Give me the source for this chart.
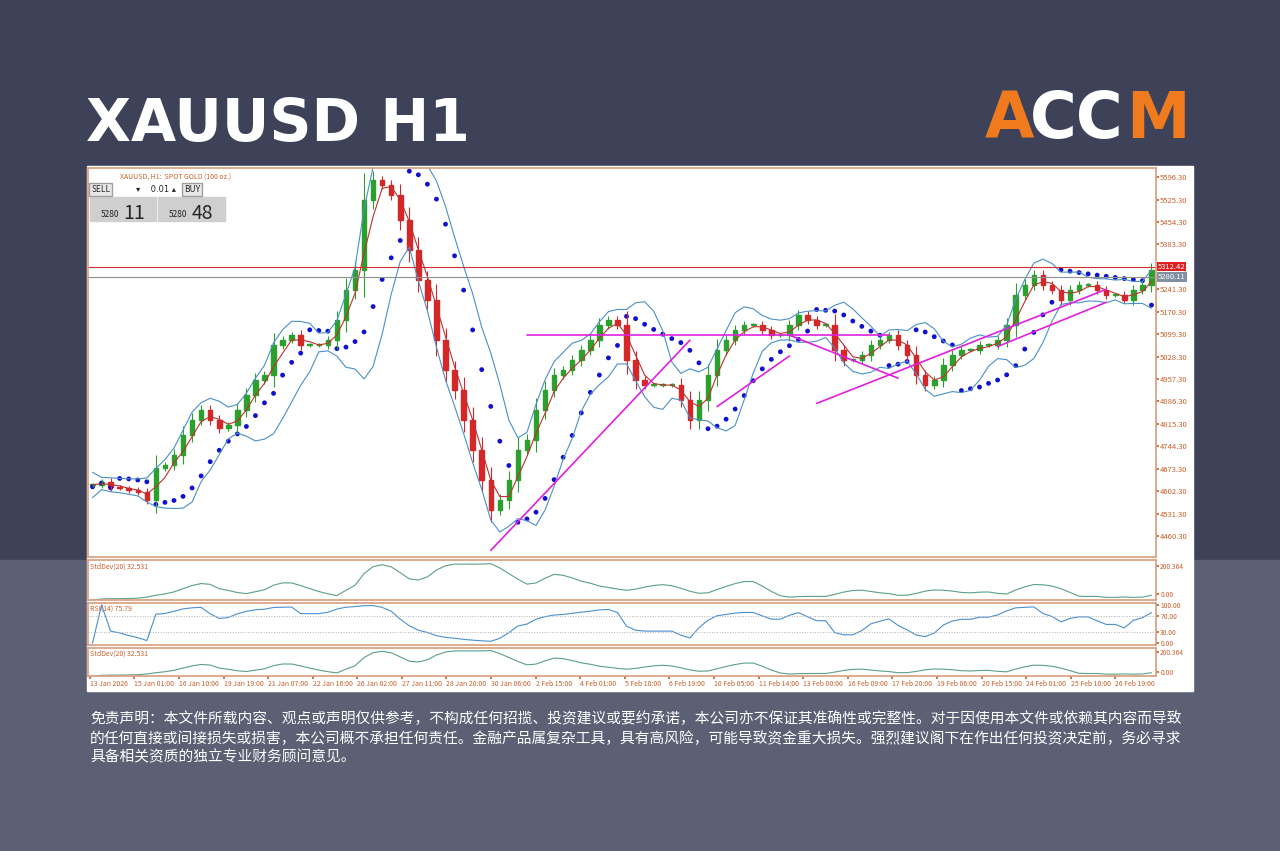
import numpy as np, pandas as pd, matplotlib
matplotlib.use("Agg")
import matplotlib.pyplot as plt, seaborn as sns
from matplotlib.patches import Rectangle

sns.set_theme(style="white")
plt.rcParams['font.family'] = ['Noto Sans CJK SC', 'DejaVu Sans']

# closes (one per ~10 px)
closes = [4622,4631,4615,4612,4606,4599,4575,4676,4685,4717,4780,4828,4859,4828,4802,4812,
          4859,4907,4954,4970,5065,5081,5096,5065,5065,5065,5081,5144,5239,5302,5524,5587,
          5571,5540,5461,5366,5271,5208,5081,4986,4923,4828,4733,4638,4543,4575,4638,4733,
          4765,4859,4923,4970,4986,5017,5049,5081,5128,5144,5128,5017,4954,4938,4938,4938,
          4938,4891,4828,4891,4970,5049,5081,5112,5128,5128,5112,5096,5096,5128,5160,5144,
          5128,5128,5049,5017,5017,5033,5065,5081,5096,5065,5033,4970,4938,4954,5001,5033,
          5049,5049,5065,5065,5081,5128,5223,5255,5286,5255,5239,5208,5239,5255,5255,5239,
          5223,5223,5208,5239,5255,5302]
date_labels = ["13 Jan 2026","15 Jan 01:00","16 Jan 10:00","19 Jan 19:00","21 Jan 07:00","22 Jan 16:00",
               "26 Jan 02:00","27 Jan 11:00","28 Jan 20:00","30 Jan 06:00","2 Feb 15:00","4 Feb 01:00",
               "5 Feb 10:00","6 Feb 19:00","10 Feb 05:00","11 Feb 14:00","13 Feb 00:00","16 Feb 09:00",
               "17 Feb 20:00","19 Feb 06:00","20 Feb 15:00","24 Feb 01:00","25 Feb 10:00","26 Feb 19:00"]
price_ticks = [5596.30,5525.30,5454.30,5383.30,5241.30,5170.30,5099.30,5028.30,4957.30,
               4886.30,4815.30,4744.30,4673.30,4602.30,4531.30,4460.30]
ask_line, bid_line = 5312.42, 5280.11
# magenta trendlines: (bar index, price) pairs
trend_lines = [((44,4415),(66,5080)),((48,5096),(88,5096)),((69,4870),(77,5030)),
               ((77,5096),(89,4960)),((80,4880),(112,5241)),((100,5060),(112,5200))]

n = len(closes)
df = pd.DataFrame({"i": np.arange(n), "close": closes})
df["open"] = df["close"].shift(1).fillna(df["close"])
rng_ = (df["close"] - df["open"]).abs()
df["high"] = df[["open","close"]].max(axis=1) + 0.35*rng_ + 6
df["low"] = df[["open","close"]].min(axis=1) - 0.35*rng_ - 6
df["ma"] = df["close"].rolling(3, min_periods=1).mean()
m = df["close"].rolling(6, min_periods=1).mean(); s = df["close"].rolling(6, min_periods=2).std().fillna(20)
df["bu"], df["bl"] = m + 1.5*s + 10, m - 1.5*s - 10
df["sd"] = df["close"].rolling(8, min_periods=2).std().fillna(0)
d = df["close"].diff().fillna(0)
up = d.clip(lower=0).ewm(alpha=1/5).mean(); dn = (-d.clip(upper=0)).ewm(alpha=1/5).mean()
df["rsi"] = 100 - 100/(1+up/(dn+1e-9))
# parabolic SAR
sar = np.zeros(n); bull = True; ep = df.high[0]; af = 0.04; sar[0] = df.low[0]
for k in range(1, n):
    sar[k] = sar[k-1] + af*(ep - sar[k-1])
    if bull:
        if df.low[k] < sar[k]: bull=False; sar[k]=ep; ep=df.low[k]; af=0.04
        elif df.high[k] > ep: ep=df.high[k]; af=min(af+0.04,0.3)
    else:
        if df.high[k] > sar[k]: bull=True; sar[k]=ep; ep=df.high[k]; af=0.04
        elif df.low[k] < ep: ep=df.low[k]; af=min(af+0.04,0.3)
df["sar"] = sar

W, H = 1280, 851
fig = plt.figure(figsize=(12.8, 8.51), dpi=100)
bg = fig.add_axes([0,0,1,1]); bg.set_axis_off(); bg.set_xlim(0,W); bg.set_ylim(H,0)
bg.add_patch(Rectangle((0,0),W,560,color="#3d4258"))
bg.add_patch(Rectangle((0,560),W,291,color="#5b6075"))
bg.add_patch(Rectangle((87,166),1106,525,color="white"))
bg.text(86,125,"XAUUSD H1",color="white",fontsize=42,fontweight="bold",va="center",family="DejaVu Sans")
bg.text(985,120,"A",color="#f07a1e",fontsize=46,fontweight="bold",va="center",family="DejaVu Sans")
bg.text(1030,120,"CC",color="white",fontsize=46,fontweight="bold",va="center",family="DejaVu Sans")
bg.text(1126,120,"M",color="#f07a1e",fontsize=46,fontweight="bold",va="center",family="DejaVu Sans")
disc = ("免责声明：本文件所载内容、观点或声明仅供参考，不构成任何招揽、投资建议或要约承诺，本公司亦不保证其准确性或完整性。对于因使用本文件或依赖其内容而导致\n"
        "的任何直接或间接损失或损害，本公司概不承担任何责任。金融产品属复杂工具，具有高风险，可能导致资金重大损失。强烈建议阁下在作出任何投资决定前，务必寻求\n"
        "具备相关资质的独立专业财务顾问意见。")
bg.text(90,738,disc,color="white",fontsize=10.6,va="center",linespacing=1.4)

def rect(x0,y0,x1,y1): return [x0/W,1-y1/H,(x1-x0)/W,(y1-y0)/H]
tc = "#c8602a"
def style(ax):
    for sp in ax.spines.values(): sp.set_color("#d9a080")
    ax.yaxis.tick_right(); ax.tick_params(axis="y", labelsize=5.5, colors=tc, length=2, pad=1)
    ax.set_xlim(-0.5, n-0.5); ax.set_xlabel(""); ax.set_ylabel("")

ax = fig.add_axes(rect(88,168,1156,557)); style(ax)
for _, r in df.iterrows():
    c = "#2ca02c" if r.close >= r.open else "#d62728"
    ax.vlines(r.i, r.low, r.high, color=c, lw=0.8)
    ax.add_patch(Rectangle((r.i-0.25, min(r.open,r.close)), 0.5, max(abs(r.close-r.open),2), color=c))
sns.lineplot(data=df,x="i",y="bu",ax=ax,color="#4a90c8",lw=0.8)
sns.lineplot(data=df,x="i",y="bl",ax=ax,color="#4a90c8",lw=0.8)
sns.lineplot(data=df,x="i",y="ma",ax=ax,color="#c03030",lw=0.8)
sns.scatterplot(data=df,x="i",y="sar",ax=ax,color="#1010d0",s=12,edgecolor="none")
for (a,b) in trend_lines:
    ax.plot([a[0],b[0]],[a[1],b[1]],color="#e020e0",lw=1.2)
ax.axhline(ask_line,color="#d03030",lw=0.8); ax.axhline(bid_line,color="#909090",lw=0.8)
ax.set_ylim(4394, 5625); ax.set_yticks(price_ticks); ax.set_yticklabels([f"{v:.2f}" for v in price_ticks])
ax.set_xticks([]); style(ax); ax.set_xlabel(""); ax.set_ylabel("")
ax.text(1.002,(ask_line-4394)/(5625-4394),f"{ask_line:.2f}",transform=ax.transAxes,fontsize=5.5,color="white",va="center",bbox=dict(fc="#e02020",ec="none",pad=0.5))
ax.text(1.002,(bid_line-4394)/(5625-4394),f"{bid_line:.2f}",transform=ax.transAxes,fontsize=5.5,color="white",va="center",bbox=dict(fc="#8090a0",ec="none",pad=0.5))
ax.text(0.03,0.985,"XAUUSD, H1:  SPOT GOLD (100 oz.)",transform=ax.transAxes,fontsize=5,color=tc,va="top")
for x0,lab in [(0.003,"SELL"),(0.09,"BUY")]:
    ax.text(x0,0.945,lab,transform=ax.transAxes,fontsize=6,va="center",bbox=dict(fc="#e8e8e8",ec="#a0a0a0",pad=1.5))
ax.text(0.045,0.945,"▾    0.01 ▴",transform=ax.transAxes,fontsize=6,va="center",family="DejaVu Sans")
ax.add_patch(Rectangle((0.002,0.865),0.062,0.06,transform=ax.transAxes,color="#cfcfcf"))
ax.add_patch(Rectangle((0.066,0.865),0.062,0.06,transform=ax.transAxes,color="#cfcfcf"))
ax.text(0.012,0.875,"5280",transform=ax.transAxes,fontsize=6); ax.text(0.033,0.87,"11",transform=ax.transAxes,fontsize=14)
ax.text(0.076,0.875,"5280",transform=ax.transAxes,fontsize=6); ax.text(0.097,0.87,"48",transform=ax.transAxes,fontsize=14)

for (y0,y1,name,lab,col,ylim) in [(560,600,"sd","StdDev(20) 32.531","#5aa08a",(0,df.sd.max()*1.1)),
                                  (603,645,"rsi","RSI(14) 75.79","#4a90d0",(-5,105)),
                                  (648,676,"sd","StdDev(20) 32.531","#5aa08a",(0,df.sd.max()*1.1))]:
    a = fig.add_axes(rect(88,y0,1156,y1))
    sns.lineplot(data=df,x="i",y=name,ax=a,color=col,lw=0.8)
    style(a); a.set_xticks([]); a.set_ylim(*ylim)
    a.tick_params(axis="y", labelsize=4.8)
    if name=="rsi":
        a.set_yticks([0,30,70,100]); a.set_yticklabels(["0.00","30.00","70.00","100.00"])
        for v in (30,70): a.axhline(v,color="#b0b0b0",ls=":",lw=0.7)
    else:
        a.set_yticks([ylim[1]*0.85, ylim[1]*0.15]); a.set_yticklabels(["200.364","0.00"])
    a.text(0.002,0.93,lab,transform=a.transAxes,fontsize=5,color=tc,va="top")
    if y0==648: last=a
last.set_xticks(np.linspace(-0.3,n-5,len(date_labels)))
last.set_xticklabels(date_labels, ha="left"); last.tick_params(axis="x",labelsize=5,colors=tc,length=2,pad=1,bottom=True)
fig.savefig("out.png",dpi=100)
